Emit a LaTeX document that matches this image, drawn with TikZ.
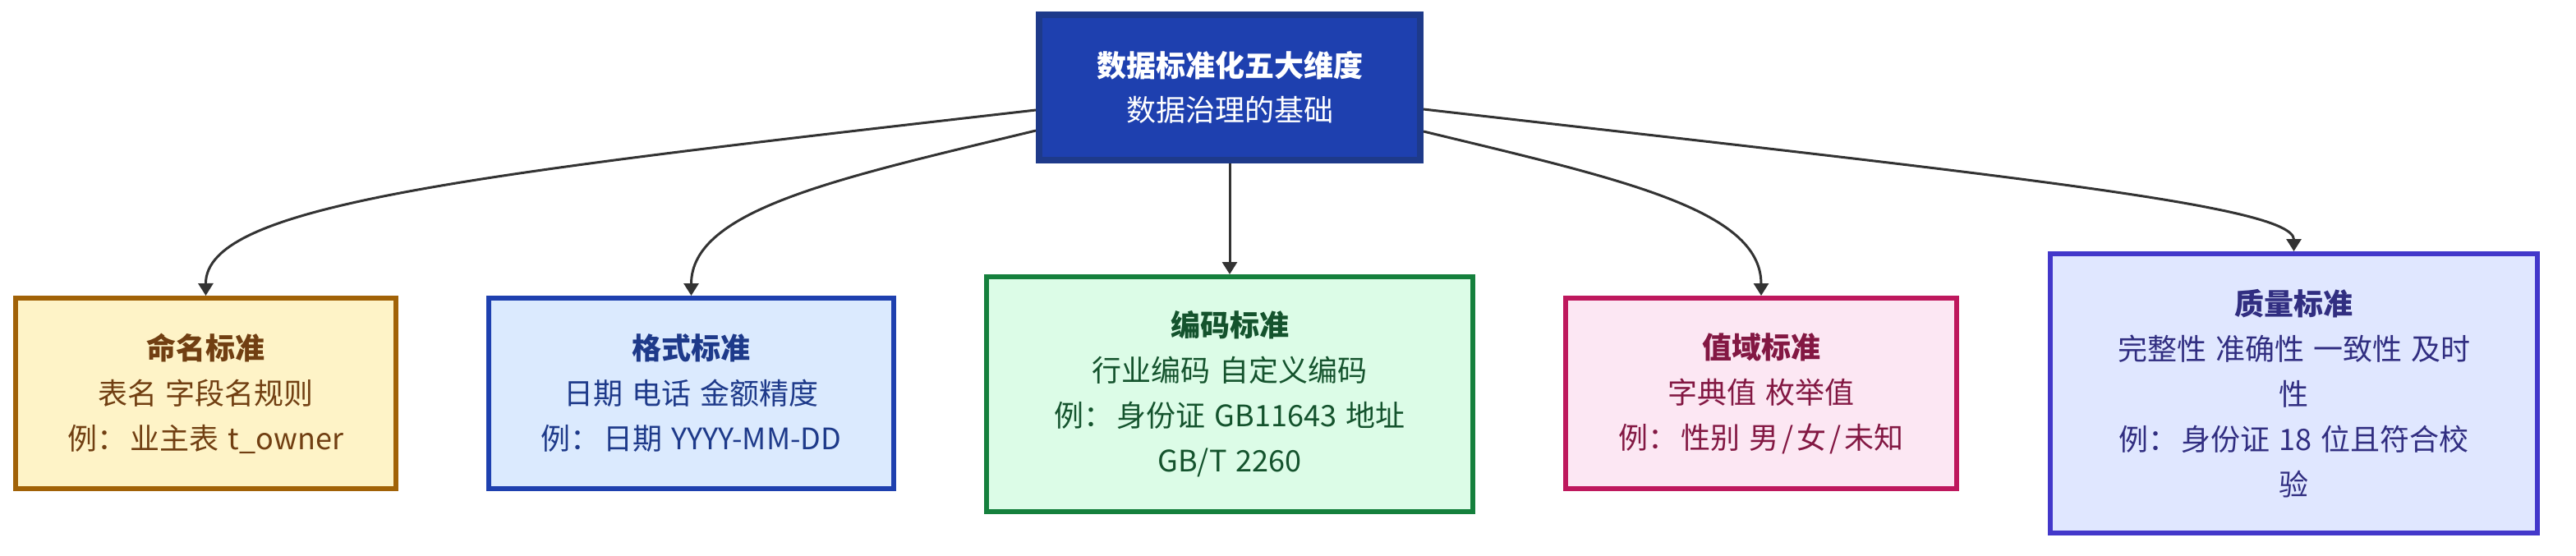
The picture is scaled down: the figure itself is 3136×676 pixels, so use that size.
\documentclass[tikz,border=0pt]{standalone}
\usepackage{fontspec}
\setmainfont{Noto Sans CJK SC}
\usetikzlibrary{arrows.meta}
\definecolor{topfill}{HTML}{1E40AF}
\definecolor{topdraw}{HTML}{1E3A8A}
\definecolor{afill}{HTML}{FEF3C7}\definecolor{adraw}{HTML}{A16207}\definecolor{atext}{HTML}{713F12}
\definecolor{bfill}{HTML}{DBEAFE}\definecolor{bdraw}{HTML}{1E40AF}\definecolor{btext}{HTML}{1E3A8A}
\definecolor{cfill}{HTML}{DCFCE7}\definecolor{cdraw}{HTML}{15803D}\definecolor{ctext}{HTML}{14532D}
\definecolor{dfill}{HTML}{FCE7F3}\definecolor{ddraw}{HTML}{BE185D}\definecolor{dtext}{HTML}{831843}
\definecolor{efill}{HTML}{E0E7FF}\definecolor{edraw}{HTML}{4338CA}\definecolor{etext}{HTML}{312E81}
\definecolor{edgec}{HTML}{333333}
\newcommand{\myslash}{\hspace{2pt}/\hspace{2pt}}
\newcommand{\widesp}{\spaceskip=5.5pt plus 1pt minus 1pt\relax}
\begin{document}
\begin{tikzpicture}[x=0.5pt,y=-0.5pt,
  box/.style={rectangle, inner sep=0pt, align=center, line width=3pt,
    font=\fontsize{18pt}{27.5pt}\selectfont\widesp},
  rootbox/.style={rectangle, inner sep=0pt, align=center, line width=4pt,
    fill=topfill, draw=topdraw, text=white,
    font=\fontsize{18pt}{27pt}\selectfont},
  conn/.style={draw=edgec, line width=1.5pt, -{Triangle[length=7.5pt,width=9pt]}}
]
\useasboundingbox[fill=white] (0,0) rectangle (3136,676);

\node[rootbox, minimum width=232pt, minimum height=88.5pt] (root) at (1497,106.5)
  {\textbf{数据标准化五大维度}\\数据治理的基础};

\node[box, fill=afill, draw=adraw, text=atext, minimum width=231.5pt, minimum height=116pt] (n1) at (250.5,479)
  {\textbf{命名标准}\\表名 字段名规则\\例：\hspace{2pt}业主表 t\_owner};
\node[box, fill=bfill, draw=bdraw, text=btext, minimum width=246.5pt, minimum height=116pt] (n2) at (841.5,479)
  {\textbf{格式标准}\\日期 电话 金额精度\\例：\hspace{2pt}日期 YYYY-MM-DD};
\node[box, fill=cfill, draw=cdraw, text=ctext, minimum width=296pt, minimum height=143pt] (n3) at (1497,480)
  {\textbf{编码标准}\\行业编码 自定义编码\\例：\hspace{2pt}身份证 GB11643 地址\\GB/T 2260};
\node[box, fill=dfill, draw=ddraw, text=dtext, minimum width=238pt, minimum height=116pt] (n4) at (2144,479)
  {\textbf{值域标准}\\字典值 枚举值\\例：\hspace{2pt}性别 男\myslash 女\myslash 未知};
\node[box, fill=efill, draw=edraw, text=etext, minimum width=296.5pt, minimum height=170pt] (n5) at (2792.5,479)
  {\textbf{质量标准}\\完整性 准确性 一致性 及时\\性\\例：\hspace{2pt}身份证 18 位且符合校\\验};

\draw[conn] ([yshift=-13.75pt]root.west) .. controls (560,214) and (250,250) .. (n1.north);
\draw[conn] ([yshift=-26.25pt]root.west) .. controls (1021,217) and (841.5,255) .. (n2.north);
\draw[conn] (root.south) -- (n3.north);
\draw[conn] ([yshift=-26.75pt]root.east) .. controls (1973,218) and (2144,255) .. (n4.north);
\draw[conn] ([yshift=-13.25pt]root.east) .. controls (2433,213) and (2792.5,250) .. (n5.north);
\end{tikzpicture}
\end{document}
